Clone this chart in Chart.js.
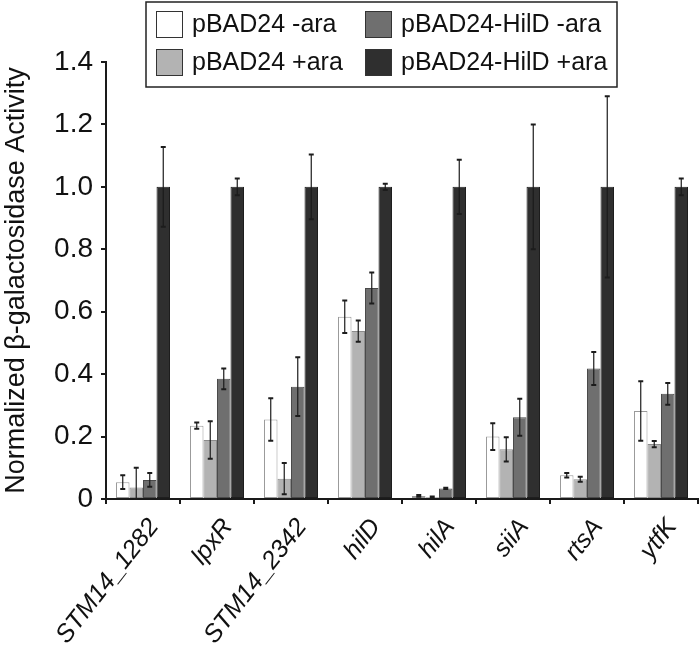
<!DOCTYPE html>
<html>
<head>
<meta charset="utf-8">
<script src="https://cdn.jsdelivr.net/npm/chart.js@4.4.1/dist/chart.umd.min.js"></script>
<style>
  html, body { margin: 0; padding: 0; background: #fff; }
  #wrap { width: 700px; height: 645px; }
</style>
</head>
<body>
<div id="wrap"><canvas id="chart" width="700" height="645"></canvas></div>
<script>
var categories = ['STM14_1282', 'lpxR', 'STM14_2342', 'hilD', 'hilA', 'siiA', 'rtsA', 'ytfK'];
var seriesNames = ['pBAD24 -ara', 'pBAD24 +ara', 'pBAD24-HilD -ara', 'pBAD24-HilD +ara'];

var pbadMinus = [0.054, 0.235, 0.255, 0.584, 0.010, 0.200, 0.076, 0.282];
var pbadMinusErr = [0.022, 0.010, 0.068, 0.052, 0.003, 0.043, 0.007, 0.095];
var pbadPlus = [0.037, 0.189, 0.065, 0.538, 0.006, 0.159, 0.063, 0.176];
var pbadPlusErr = [0.063, 0.060, 0.050, 0.034, 0.002, 0.039, 0.008, 0.010];
var hildMinus = [0.061, 0.385, 0.360, 0.676, 0.034, 0.262, 0.418, 0.337];
var hildMinusErr = [0.022, 0.033, 0.094, 0.050, 0.002, 0.059, 0.053, 0.035];
var hildPlus = [1.0, 1.0, 1.0, 1.0, 1.0, 1.0, 1.0, 1.0];
var hildPlusErr = [0.128, 0.027, 0.104, 0.010, 0.087, 0.200, 0.290, 0.027];

var yTickLabels = ['0', '0.2', '0.4', '0.6', '0.8', '1.0', '1.2', '1.4'];

var FONT = "'Liberation Sans', Arial, sans-serif";

/* error bars drawn from the bar elements + y scale */
var errorBars = {
  id: 'errorBars',
  afterDatasetsDraw: function(chart) {
    var ctx = chart.ctx;
    var y = chart.scales.y;
    ctx.save();
    ctx.strokeStyle = '#1c1c1c';
    chart.data.datasets.forEach(function(ds, di) {
      var meta = chart.getDatasetMeta(di);
      meta.data.forEach(function(bar, i) {
        var v = ds.data[i], e = ds.errors[i];
        var top = y.getPixelForValue(v + e);
        var bot = y.getPixelForValue(Math.max(0, v - e));
        ctx.lineWidth = 1.2;
        ctx.beginPath();
        ctx.moveTo(bar.x, top);
        ctx.lineTo(bar.x, bot);
        ctx.stroke();
        ctx.lineWidth = 2;
        ctx.beginPath();
        ctx.moveTo(bar.x - 2.5, top);
        ctx.lineTo(bar.x + 2.5, top);
        ctx.moveTo(bar.x - 2.5, bot);
        ctx.lineTo(bar.x + 2.5, bot);
        ctx.stroke();
      });
    });
    ctx.restore();
  }
};

/* boxed legend, two columns */
var boxLegend = {
  id: 'boxLegend',
  afterDraw: function(chart) {
    var ctx = chart.ctx;
    var ds = chart.data.datasets;
    ctx.save();
    ctx.fillStyle = '#fff';
    ctx.fillRect(146, 2, 471, 85);
    ctx.strokeStyle = '#222';
    ctx.lineWidth = 1.5;
    ctx.strokeRect(146, 2, 471, 85);
    var cols = [156, 365], rows = [11, 49];
    ctx.font = '25px ' + FONT;
    ctx.textBaseline = 'middle';
    ds.forEach(function(d, i) {
      var cx = cols[Math.floor(i / 2)], cy = rows[i % 2];
      ctx.fillStyle = d.backgroundColor;
      ctx.fillRect(cx, cy, 27, 27);
      ctx.strokeStyle = '#333';
      ctx.lineWidth = 1;
      ctx.strokeRect(cx + 0.5, cy + 0.5, 26, 26);
      ctx.fillStyle = '#111';
      ctx.fillText(d.label, cx + 36, cy + 14);
    });
    ctx.restore();
  }
};

function makeSet(i, data, errs, fill, border) {
  return {
    label: seriesNames[i],
    data: data,
    errors: errs,
    backgroundColor: fill,
    borderColor: border,
    borderWidth: 1,
    borderSkipped: false,
    categoryPercentage: 0.73,
    barPercentage: 1.0
  };
}

new Chart(document.getElementById('chart'), {
  type: 'bar',
  data: {
    labels: categories,
    datasets: [
      makeSet(0, pbadMinus, pbadMinusErr, '#ffffff', '#9a9a9a'),
      makeSet(1, pbadPlus, pbadPlusErr, '#b3b3b3', '#8c8c8c'),
      makeSet(2, hildMinus, hildMinusErr, '#6f6f6f', '#4a4a4a'),
      makeSet(3, hildPlus, hildPlusErr, '#2f2f2f', '#1e1e1e')
    ]
  },
  options: {
    responsive: false,
    animation: false,
    layout: { padding: { top: 62, right: 2, left: 0, bottom: 0 } },
    plugins: { legend: { display: false }, tooltip: { enabled: false } },
    scales: {
      x: {
        afterFit: function(scale) { scale.height = 146; },
        border: { display: true, color: '#1a1a1a', width: 2 },
        grid: { drawOnChartArea: false, drawTicks: true, tickLength: 5, color: '#1a1a1a', lineWidth: 2 },
        ticks: {
          color: '#111',
          minRotation: 52,
          maxRotation: 52,
          autoSkip: false,
          padding: 9,
          labelOffset: 11,
          font: { family: FONT, size: 25, style: 'italic' }
        }
      },
      y: {
        min: 0,
        max: 1.4,
        afterFit: function(scale) { scale.width = 106; },
        border: { display: true, color: '#1a1a1a', width: 2 },
        grid: { drawOnChartArea: false, drawTicks: true, tickLength: 5, color: '#1a1a1a', lineWidth: 2 },
        ticks: {
          stepSize: 0.2,
          color: '#111',
          padding: 8,
          font: { family: FONT, size: 28 },
          callback: function(v, i) { return yTickLabels[i]; }
        },
        title: {
          display: true,
          text: 'Normalized \u03b2-galactosidase Activity',
          color: '#111',
          padding: { top: 0, bottom: 0 },
          font: { family: FONT, size: 27 }
        }
      }
    }
  },
  plugins: [errorBars, boxLegend]
});
</script>
</body>
</html>
